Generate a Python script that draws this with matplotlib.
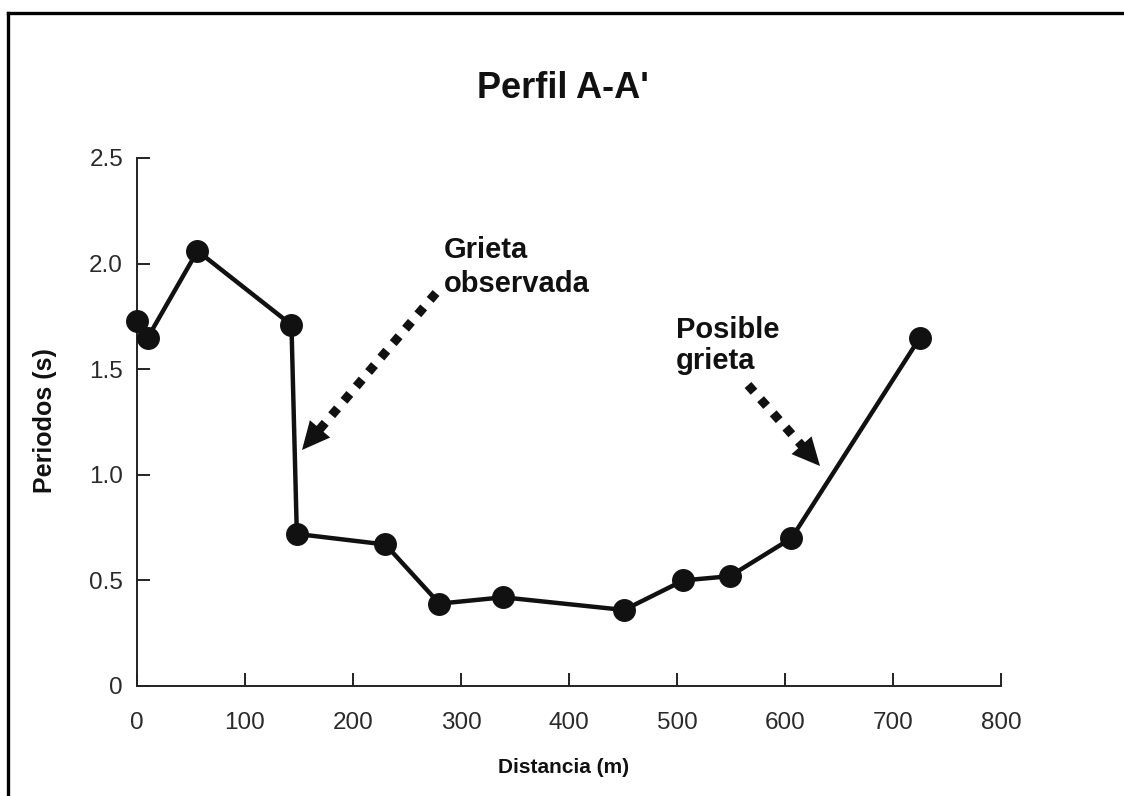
import matplotlib
matplotlib.use("Agg")
import matplotlib.pyplot as plt
from matplotlib.lines import Line2D
from matplotlib.patches import FancyArrowPatch
import math

plt.rcParams['font.family'] = ['Liberation Sans', 'DejaVu Sans']

# Data
distancia = [0, 10, 56, 143, 148, 230, 280, 339, 451, 506, 549, 606, 725]
periodos = [1.73, 1.65, 2.06, 1.71, 0.72, 0.67, 0.39, 0.42, 0.36, 0.50, 0.52, 0.70, 1.65]
xticks = [0, 100, 200, 300, 400, 500, 600, 700, 800]
yticks = [0, 0.5, 1.0, 1.5, 2.0, 2.5]
yticklabels = ['0', '0.5', '1.0', '1.5', '2.0', '2.5']

W, H = 1124, 796
fig = plt.figure(figsize=(W / 100, H / 100), dpi=100)
fig.patch.set_facecolor('white')

def fx(px):
    return px / W

def fy(py):
    return 1 - py / H

ax = fig.add_axes([fx(137), fy(686), fx(1001) - fx(137), fy(158) - fy(686)])
ax.plot(distancia, periodos, color='#111111', lw=3.2, marker='o', markersize=15.5,
        markerfacecolor='#111111', markeredgecolor='#111111', zorder=3, clip_on=False)

ax.set_xlim(0, 800)
ax.set_ylim(0, 2.5)
ax.set_xticks(xticks)
ax.set_xticklabels([str(v) for v in xticks])
ax.set_yticks(yticks)
ax.set_yticklabels(yticklabels)
for s in ['top', 'right']:
    ax.spines[s].set_visible(False)
for s in ['left', 'bottom']:
    ax.spines[s].set_linewidth(1.4)
    ax.spines[s].set_color('#222222')
ax.tick_params(axis='both', direction='in', length=9.5, width=1.4, color='#222222',
               labelsize=17.5, labelcolor='#2a2a2a')
ax.tick_params(axis='x', pad=19)
ax.tick_params(axis='y', pad=10)

# Titles / labels
fig.text(fx(563), fy(98), "Perfil A-A'", ha='center', va='baseline', fontsize=26,
         fontweight='bold', color='#111111')
fig.text(fx(564), fy(773), "Distancia (m)", ha='center', va='baseline', fontsize=15,
         fontweight='bold', color='#111111')
fig.text(fx(45), fy(421), "Periodos (s)", ha='center', va='center', rotation=90,
         fontsize=18, fontweight='bold', color='#111111')

# Annotation texts
fig.text(fx(444), fy(258), "Grieta", ha='left', va='baseline', fontsize=21,
         fontweight='bold', color='#111111')
fig.text(fx(444), fy(292), "observada", ha='left', va='baseline', fontsize=21,
         fontweight='bold', color='#111111')
fig.text(fx(676), fy(338), "Posible", ha='left', va='baseline', fontsize=21,
         fontweight='bold', color='#111111')
fig.text(fx(676), fy(369), "grieta", ha='left', va='baseline', fontsize=21,
         fontweight='bold', color='#111111')

# Dotted arrows (figure pixel positions)
def dotted_arrow(tail, tip):
    dx, dy = tip[0] - tail[0], tip[1] - tail[1]
    L = math.hypot(dx, dy)
    ux, uy = dx / L, dy / L
    head_len = 27
    shaft_end = (tip[0] - ux * (head_len - 4), tip[1] - uy * (head_len - 4))
    line = Line2D([fx(tail[0]), fx(shaft_end[0])], [fy(tail[1]), fy(shaft_end[1])],
                  transform=fig.transFigure, color='#111111', lw=6.5,
                  linestyle=(0, (1, 1.1)), dash_capstyle='butt')
    fig.add_artist(line)
    hstart = (tip[0] - ux * head_len, tip[1] - uy * head_len)
    arr = FancyArrowPatch((fx(hstart[0]), fy(hstart[1])), (fx(tip[0]), fy(tip[1])),
                          transform=fig.transFigure,
                          arrowstyle='-|>,head_length=1.0,head_width=0.48',
                          mutation_scale=20, lw=0, color='#111111',
                          shrinkA=0, shrinkB=0)
    fig.add_artist(arr)

dotted_arrow((436, 293), (302, 450))
dotted_arrow((748, 385), (820, 466))

# Outer frame (top and left)
fig.add_artist(Line2D([fx(8), 1], [fy(13), fy(13)], transform=fig.transFigure,
                      color='black', lw=2.4))
fig.add_artist(Line2D([fx(8), fx(8)], [fy(13), 0], transform=fig.transFigure,
                      color='black', lw=2.4))

fig.savefig('out.png', dpi=100, facecolor='white')
